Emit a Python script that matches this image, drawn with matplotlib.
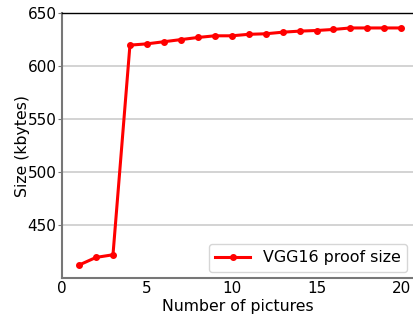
import matplotlib
matplotlib.use("Agg")
import matplotlib.pyplot as plt

num_pictures = list(range(1, 21))
proof_size = [412.3, 419.5, 422, 619.8, 621, 623, 625, 627, 628.6, 628.6,
              630, 630.5, 632, 633, 633.6, 634.6, 636, 636, 636, 636]
series_label = "VGG16 proof size"

fig = plt.figure(figsize=(4.14, 3.2), dpi=100)
ax = fig.add_axes([0.150, 0.131, 0.848, 0.828])
ax.plot(num_pictures, proof_size, color="red", linewidth=2.2, marker="o",
        markersize=4, label=series_label)
ax.set_xlim(0, 20.7)
ax.set_ylim(400, 650)
ax.set_xticks([0, 5, 10, 15, 20])
ax.set_yticks([450, 500, 550, 600, 650])
ax.yaxis.grid(True, color="#cccccc", linewidth=1.2)
ax.set_axisbelow(True)
ax.spines["right"].set_visible(False)
ax.spines["left"].set_color("#777777")
ax.spines["left"].set_linewidth(1.5)
ax.spines["bottom"].set_color("#777777")
ax.spines["bottom"].set_linewidth(1.5)
ax.spines["top"].set_color("black")
ax.spines["top"].set_linewidth(1.0)
ax.tick_params(axis="y", labelsize=11, color="#777777", length=3, pad=1)
ax.tick_params(axis="x", labelsize=11, length=0, pad=2)
ax.set_xlabel("Number of pictures", fontsize=11.3, labelpad=2)
ax.set_ylabel("Size (kbytes)", fontsize=11.3, labelpad=-2)
ax.legend(loc="lower right", fontsize=11.4, handlelength=2.2,
          borderaxespad=0.4)
fig.savefig("out.png", dpi=100)
